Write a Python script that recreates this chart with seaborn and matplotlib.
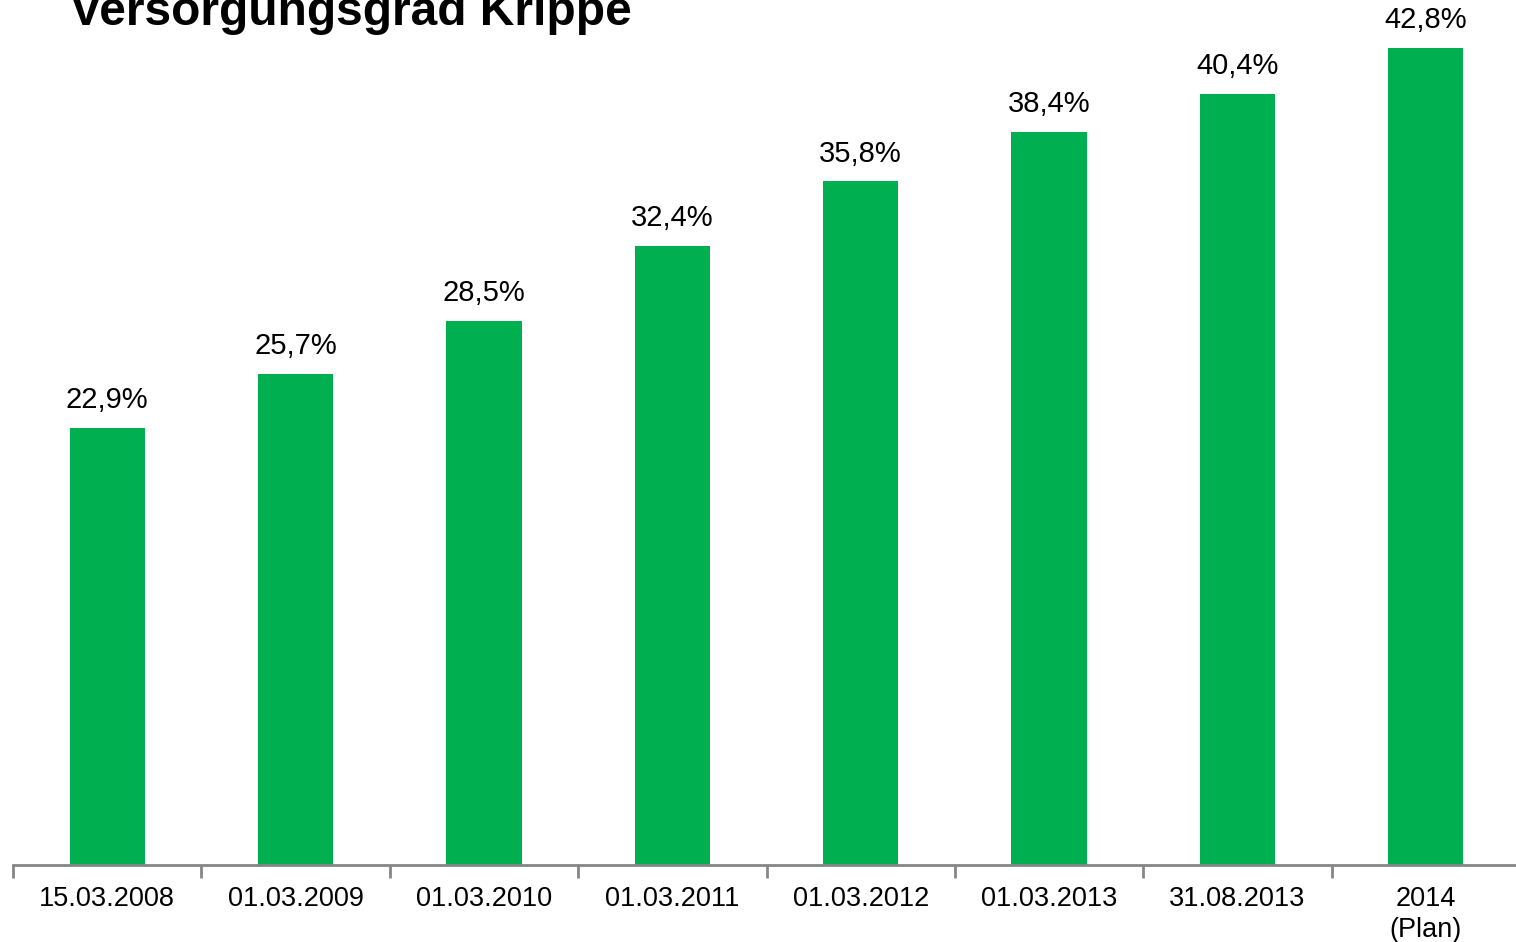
import matplotlib
matplotlib.use("Agg")
import matplotlib.pyplot as plt
import seaborn as sns
import pandas as pd
import numpy as np

categories = ["15.03.2008", "01.03.2009", "01.03.2010", "01.03.2011",
              "01.03.2012", "01.03.2013", "31.08.2013", "2014\n(Plan)"]
values = [22.9, 25.7, 28.5, 32.4, 35.8, 38.4, 40.4, 42.8]
title = "Versorgungsgrad Krippe"

sns.set_style("white")
plt.rcParams['font.family'] = ['Liberation Sans', 'DejaVu Sans']

W, H = 1516, 942
fig = plt.figure(figsize=(W / 100, H / 100), dpi=100)
ax = fig.add_axes([13 / W, 1 - 865 / H, (1520 - 13) / W, 865 / H])

df = pd.DataFrame({"cat": categories, "val": values})
sns.barplot(data=df, x="cat", y="val", color="#00B050", width=0.4,
            saturation=1, ax=ax, edgecolor="none")

ax.set_xlim(-0.5, len(categories) - 0.5)
ax.set_ylim(0, 45.3)
ax.set_xlabel("")
ax.set_ylabel("")
ax.set_yticks([])
for s in ["top", "right", "left"]:
    ax.spines[s].set_visible(False)
ax.spines["bottom"].set_color("#868686")
ax.spines["bottom"].set_linewidth(2)

ax.set_xticks(np.arange(len(categories)))
ax.set_xticklabels(categories, fontsize=19.5, linespacing=1.25, color="black")
ax.tick_params(axis="x", which="major", length=0, pad=15)
ax.set_xticks(np.arange(len(categories) + 1) - 0.5, minor=True)
ax.tick_params(axis="x", which="minor", length=9, width=2, color="#868686",
               direction="out", bottom=True)

for i, v in enumerate(values):
    ax.annotate(f"{v:.1f}".replace(".", ",") + "%", (i, v),
                xytext=(0, 10), textcoords="offset points",
                ha="center", va="bottom", fontsize=21, color="black")

fig.text(70 / W, 1 - 25 / H, title, fontsize=34.5, fontweight="bold",
         ha="left", va="baseline", color="black")

fig.savefig("out.png", dpi=100)
